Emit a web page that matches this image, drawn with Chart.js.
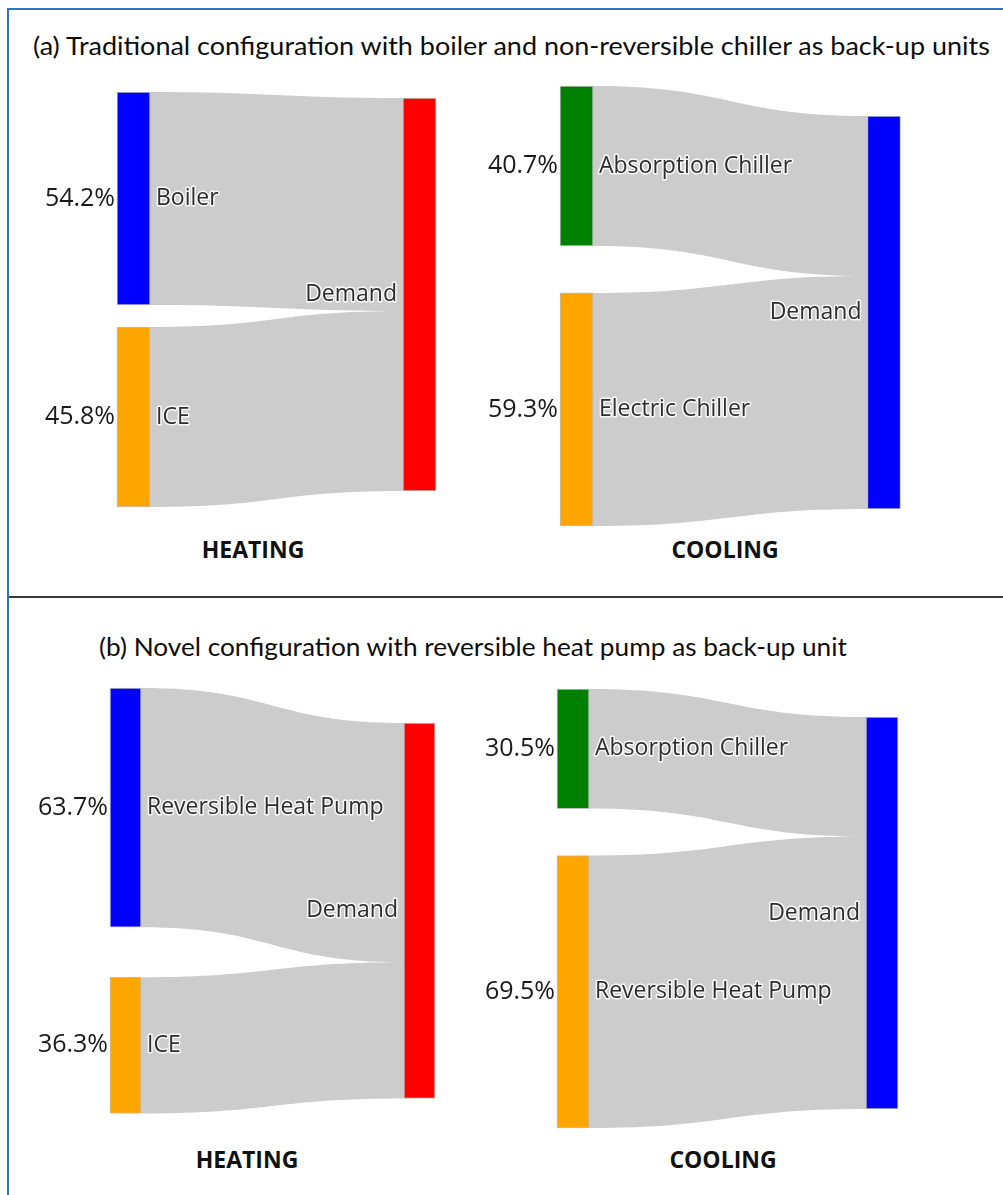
<!DOCTYPE html>
<html>
<head>
<meta charset="utf-8">
<title>Back-up unit configurations</title>
<script src="https://cdn.jsdelivr.net/npm/chart.js@4.4.1/dist/chart.umd.min.js"></script>
<style>
  html, body { margin: 0; padding: 0; background: #fff; }
  body { width: 1003px; height: 1195px; position: relative; overflow: hidden; font-family: 'Open Sans', sans-serif; }
  .frame { position: absolute; left: 7px; top: 8px; width: 1010px; height: 1200px;
           border-top: 2px solid #2f75c4; border-left: 2px solid #2f75c4; }
  .divider { position: absolute; left: 9px; right: 0; top: 596px; height: 2px; background: #3c3c3c; }
  .title { position: absolute; font-family: Lato, 'Liberation Sans', sans-serif; font-size: 25px; color: #0d0d0d;
           white-space: nowrap; line-height: 1; transform-origin: left center; }
  .mode { position: absolute; font-weight: 700; font-size: 23px; color: #111; white-space: nowrap;
          line-height: 1; transform: translate(-50%, -50%); }
  canvas { position: absolute; }
</style>
</head>
<body>
<div class="frame"></div>
<div class="divider"></div>

<div class="title" id="title-a" data-x="33" data-y="45" data-w="957">(a) Traditional configuration with boiler and non-reversible chiller as back-up units</div>
<div class="title" id="title-b" data-x="99" data-y="646" data-w="748">(b) Novel configuration with reversible heat pump as back-up unit</div>

<div class="mode" style="left:253px; top:549px">HEATING</div>
<div class="mode" style="left:725px; top:549px">COOLING</div>
<div class="mode" style="left:247px; top:1159px">HEATING</div>
<div class="mode" style="left:723px; top:1159px">COOLING</div>

<canvas id="heatA"></canvas>
<canvas id="coolA"></canvas>
<canvas id="heatB"></canvas>
<canvas id="coolB"></canvas>

<script>
// share of demand covered by each unit (%)
const targetName = 'Demand';

const heatingASources = ['Boiler', 'ICE'];
const heatingAShares = [54.2, 45.8];

const coolingASources = ['Absorption Chiller', 'Electric Chiller'];
const coolingAShares = [40.7, 59.3];

const heatingBSources = ['Reversible Heat Pump', 'ICE'];
const heatingBShares = [63.7, 36.3];

const coolingBSources = ['Absorption Chiller', 'Reversible Heat Pump'];
const coolingBShares = [30.5, 69.5];

const BLUE = '#0000ff', ORANGE = '#ffa500', RED = '#ff0000', GREEN = '#008000';
const LINK = 'rgba(0,0,0,0.2)';
const LABEL = '#2e2e2e';

// page layout of each diagram (px)
const panels = [
  { id: 'heatA', names: heatingASources, shares: heatingAShares, colors: [BLUE, ORANGE], target: RED,
    box: { left: 20, top: 70, width: 440, height: 470 },
    src: [117, 150], tgt: [403, 436], srcTop: 92, gap: 22, tgtTop: 98, pxPerPct: 3.93 },
  { id: 'coolA', names: coolingASources, shares: coolingAShares, colors: [GREEN, ORANGE], target: BLUE,
    box: { left: 465, top: 70, width: 460, height: 470 },
    src: [560, 593], tgt: [868, 900], srcTop: 86, gap: 47, tgtTop: 116, pxPerPct: 3.93 },
  { id: 'heatB', names: heatingBSources, shares: heatingBShares, colors: [BLUE, ORANGE], target: RED,
    box: { left: 20, top: 665, width: 440, height: 470 },
    src: [110, 141], tgt: [404, 435], srcTop: 688, gap: 50, tgtTop: 723, pxPerPct: 3.755 },
  { id: 'coolB', names: coolingBSources, shares: coolingBShares, colors: [GREEN, ORANGE], target: BLUE,
    box: { left: 465, top: 665, width: 460, height: 470 },
    src: [557, 589], tgt: [866, 898], srcTop: 689, gap: 47, tgtTop: 717, pxPerPct: 3.92 }
];

// grey bands from every source node into the demand node
const flowPlugin = {
  id: 'flows',
  beforeDatasetsDraw(chart) {
    const ctx = chart.ctx;
    const y = chart.scales.y;
    const meta = chart.getDatasetMeta(0);
    const data = chart.data.datasets[0].data;
    const n = data.length - 1;
    const tgtEl = meta.data[n];
    let t = data[n].y[0];
    ctx.save();
    ctx.fillStyle = LINK;
    for (let i = 0; i < n; i++) {
      const el = meta.data[i];
      const [s0, s1] = data[i].y;
      const v = s1 - s0;
      const x0 = el.x + el.width / 2;
      const x1 = tgtEl.x - tgtEl.width / 2;
      const xm = (x0 + x1) / 2;
      const ya0 = y.getPixelForValue(s0), ya1 = y.getPixelForValue(s1);
      const yb0 = y.getPixelForValue(t), yb1 = y.getPixelForValue(t + v);
      ctx.beginPath();
      ctx.moveTo(x0, ya0);
      ctx.bezierCurveTo(xm, ya0, xm, yb0, x1, yb0);
      ctx.lineTo(x1, yb1);
      ctx.bezierCurveTo(xm, yb1, xm, ya1, x0, ya1);
      ctx.closePath();
      ctx.fill();
      t += v;
    }
    ctx.restore();
  }
};

function haloText(ctx, text, x, y) {
  ctx.lineWidth = 3;
  ctx.lineJoin = 'round';
  ctx.strokeStyle = 'rgba(255,255,255,0.85)';
  ctx.strokeText(text, x, y);
  ctx.fillStyle = LABEL;
  ctx.fillText(text, x, y);
}

const labelPlugin = {
  id: 'nodeLabels',
  afterDatasetsDraw(chart) {
    const opts = chart.options.plugins.nodeLabels;
    const ctx = chart.ctx;
    const meta = chart.getDatasetMeta(0);
    const n = meta.data.length - 1;
    ctx.save();
    ctx.textBaseline = 'middle';
    for (let i = 0; i < n; i++) {
      const el = meta.data[i];
      const cy = (el.y + el.base) / 2;
      // share in front of the node
      ctx.font = '25px "Open Sans"';
      ctx.textAlign = 'right';
      ctx.fillStyle = '#1a1a1a';
      ctx.fillText(opts.shares[i].toFixed(1) + '%', el.x - el.width / 2 - 2, cy);
      // unit name inside the band
      ctx.font = '23px "Open Sans"';
      ctx.textAlign = 'left';
      haloText(ctx, opts.names[i], el.x + el.width / 2 + 6, cy);
    }
    const tgt = meta.data[n];
    ctx.font = '23px "Open Sans"';
    ctx.textAlign = 'right';
    haloText(ctx, targetName, tgt.x - tgt.width / 2 - 6, (tgt.y + tgt.base) / 2);
    ctx.restore();
  }
};

function buildPanel(p) {
  const canvas = document.getElementById(p.id);
  canvas.width = p.box.width;
  canvas.height = p.box.height;
  canvas.style.left = p.box.left + 'px';
  canvas.style.top = p.box.top + 'px';

  const k = p.pxPerPct;
  // column 0 = sources, column 1 = demand
  const c0 = (p.src[0] + p.src[1]) / 2 - p.box.left;
  const c1 = (p.tgt[0] + p.tgt[1]) / 2 - p.box.left;
  const perCol = c1 - c0;
  const yMin = -(p.srcTop - p.box.top) / k;

  const nodes = [];
  let acc = 0;
  p.shares.forEach((v, i) => {
    const s = acc + i * p.gap / k;
    nodes.push({ x: 0, y: [s, s + v] });
    acc += v;
  });
  const total = p.shares.reduce((a, b) => a + b, 0);
  const t0 = (p.tgtTop - p.srcTop) / k;
  nodes.push({ x: 1, y: [t0, t0 + total] });

  return new Chart(canvas.getContext('2d'), {
    type: 'bar',
    data: {
      datasets: [{
        data: nodes,
        backgroundColor: [...p.colors, p.target],
        borderColor: 'rgba(68,68,68,0.35)',
        borderWidth: 1,
        borderSkipped: false,
        barThickness: p.src[1] - p.src[0]
      }]
    },
    options: {
      responsive: false,
      animation: false,
      events: [],
      layout: { padding: 0 },
      plugins: {
        legend: { display: false },
        tooltip: { enabled: false },
        nodeLabels: { names: p.names, shares: p.shares }
      },
      scales: {
        x: { type: 'linear', display: false, offset: false,
             min: -c0 / perCol, max: (p.box.width - c0) / perCol },
        y: { type: 'linear', display: false, reverse: true,
             min: yMin, max: yMin + p.box.height / k }
      }
    },
    plugins: [flowPlugin, labelPlugin]
  });
}

panels.forEach(buildPanel);

// stretch the panel headings to their full line length
document.querySelectorAll('.title').forEach(el => {
  const w = el.offsetWidth;
  const h = el.offsetHeight;
  el.style.left = el.dataset.x + 'px';
  el.style.top = (el.dataset.y - h / 2) + 'px';
  el.style.transform = 'scaleX(' + (el.dataset.w / w) + ')';
});
</script>
</body>
</html>
